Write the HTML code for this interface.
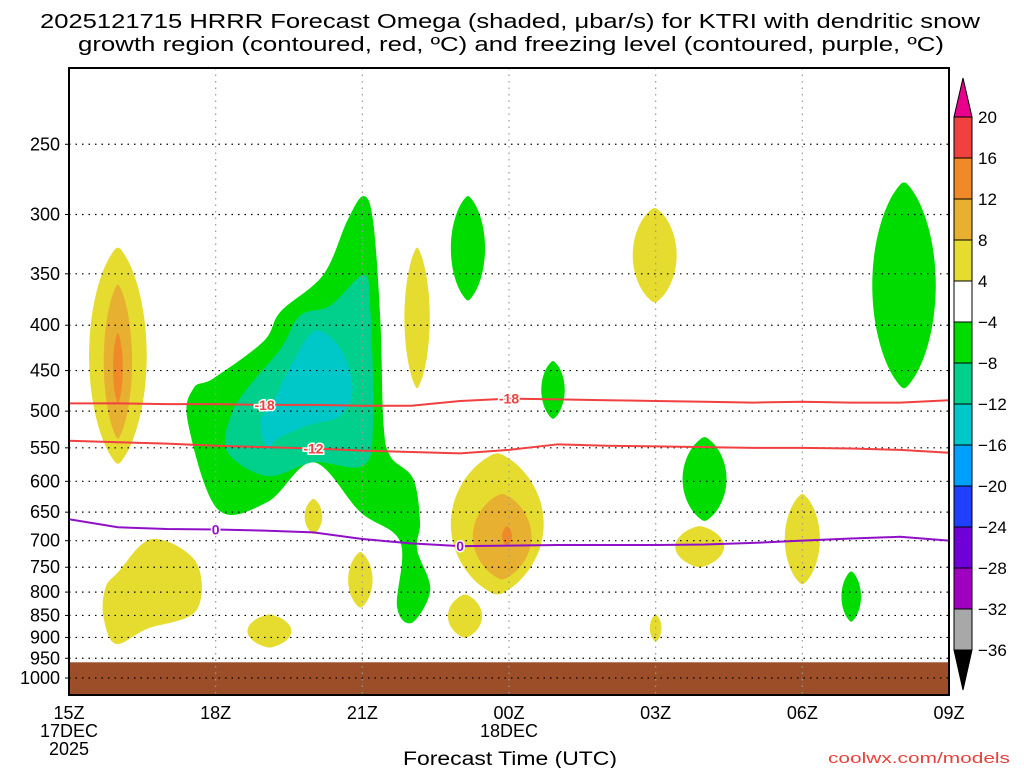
<!DOCTYPE html>
<html><head><meta charset="utf-8"><style>
html,body{margin:0;padding:0;background:#fff;}
svg{display:block;font-family:"Liberation Sans","DejaVu Sans",sans-serif;}
</style></head><body>
<svg id="chart" width="1024" height="768" viewBox="0 0 1024 768" xmlns="http://www.w3.org/2000/svg">
<text x="40" y="28" textLength="940" lengthAdjust="spacingAndGlyphs" font-size="20" fill="#000">2025121715 HRRR Forecast Omega (shaded, μbar/s) for KTRI with dendritic snow</text>
<text x="78" y="51" textLength="866" lengthAdjust="spacingAndGlyphs" font-size="20" fill="#000">growth region (contoured, red, ºC) and freezing level (contoured, purple, ºC)</text>
<g id="plot"></g>
<g id="cbar"></g>
<text x="403" y="765" textLength="214" lengthAdjust="spacingAndGlyphs" font-size="19" fill="#000">Forecast Time (UTC)</text>
<text x="828" y="763" textLength="182" lengthAdjust="spacingAndGlyphs" font-size="15" fill="#e8403c">coolwx.com/models</text>
</svg>
<script>
// ---- data ----
const xTickHours=[0,3,6,9,12,15,18];
const xTickLabels=["15Z","18Z","21Z","00Z","03Z","06Z","09Z"];
const pLevels=[250,300,350,400,450,500,550,600,650,700,750,800,850,900,950,1000];
const cbLevels=["20","16","12","8","4","-4","-8","-12","-16","-20","-24","-28","-32","-36"];
const cbColors=["#f04040","#f08a28","#e8b030","#e6dc30","#ffffff","#00dc00","#00d08c","#00c8c8","#00a0ff","#2040ff","#7000d8","#a000c0","#a8a8a8"];
const lineHours=[0,1,2,3,4,5,6,7,8,9,10,11,12,13,14,15,16,17,18];
const iso18=[490,490,491,491,492,492,493,493,487,484,485,486,487,488,489,488,489,489,486];
const iso12=[540,542,544,547,549,551,554,556,558,553,545,547,548,549,550,550,551,553,557];
const iso0=[662,676,679,680,682,685,697,705,710,709,708,708,708,707,704,700,696,693,700];
const greenMain=[[6.02,286],[6.22,305],[6.37,396],[6.43,514],[6.57,562],[7.04,596],[7.18,667],[7.12,716],[7.39,795],[7.02,866],[6.71,831],[6.78,703],[5.96,650],[5.0,571],[4.06,633],[3.04,645],[2.43,514],[2.55,471],[2.96,459],[3.98,417],[4.33,386],[5.2,351],[5.69,305]];
const tealMain=[[6.02,351],[6.16,380],[6.22,514],[6.02,576],[5.0,571],[4.06,592],[3.24,556],[3.31,506],[3.65,471],[4.33,425],[4.73,390],[5.35,380]];
const cyanMain=[[5.04,406],[5.55,425],[5.8,471],[5.55,506],[4.88,519],[4.27,537],[4.06,551],[3.92,514],[4.18,488],[4.59,439]];
const yellowBoxLeft=[[1.0,760],[1.7,697],[2.6,740],[2.6,840],[1.6,880],[0.95,915],[0.7,850],[0.75,790]];
// blobs: [colorIndex, centerHour, pTop, pBottom, halfWidthHours]
const blobs=[
[3,1.0,327,573,0.59],[2,1.0,360,537,0.29],[1,1.0,408,490,0.1],
[3,7.12,327,471,0.26],[5,8.16,286,375,0.35],[5,9.9,439,510,0.24],
[3,11.98,295,377,0.45],[5,17.08,276,471,0.65],[5,13.0,535,665,0.45],
[3,8.76,558,805,0.95],[2,8.86,620,774,0.6],[1,8.96,674,710,0.1],
[3,15.0,620,784,0.36],[3,5.0,628,688,0.18],[3,5.96,721,833,0.25],
[3,12.9,674,750,0.5],[3,4.1,848,924,0.45],
[3,8.1,805,901,0.35],[3,12.0,848,910,0.12],[5,16.0,758,864,0.2],[6,7.02,780,815,0.06]
];
const groundTop=960;
// ---- scales ----
const X0=69,X1=949,Y0=68,Y1=695;
const xs=h=>X0+h*(X1-X0)/18;
const ys=p=>678-385*Math.log(1000/p);
const NS="http://www.w3.org/2000/svg";
const plot=document.getElementById('plot'),cbar=document.getElementById('cbar');
function mk(tag,attrs,parent){const e=document.createElementNS(NS,tag);for(const k in attrs)e.setAttribute(k,attrs[k]);parent.appendChild(e);return e;}
function smooth(pts){let d="";const n=pts.length;for(let i=0;i<n;i++){const p0=pts[(i-1+n)%n],p1=pts[i],p2=pts[(i+1)%n],p3=pts[(i+2)%n];
if(i===0)d+="M"+p1[0]+","+p1[1];
const c1=[p1[0]+(p2[0]-p0[0])/6,p1[1]+(p2[1]-p0[1])/6],c2=[p2[0]-(p3[0]-p1[0])/6,p2[1]-(p3[1]-p1[1])/6];
d+="C"+c1+" "+c2+" "+p2;}return d+"Z";}
const clip=mk('clipPath',{id:'pc'},plot);mk('rect',{x:X0,y:Y0,width:X1-X0,height:Y1-Y0},clip);
const g=mk('g',{'clip-path':'url(#pc)'},plot);
const yb0=mk('path',{d:smooth(yellowBoxLeft.map(q=>[xs(q[0]),ys(q[1])])),fill:cbColors[3]},g);


blobs.forEach(b=>{
 const yt=ys(b[2]),yb=ys(b[3]),cy=(yt+yb)/2,ry=(yb-yt)/2,cx=xs(b[1]),rx=b[4]*(X1-X0)/18;
 const pts=[];for(let i=0;i<20;i++){const a=i/20*2*Math.PI;const s=Math.sin(a),c=Math.cos(a);pts.push([cx+rx*s*Math.pow(Math.abs(s),0.4),cy-ry*c]);}
 const e=mk('path',{d:smooth(pts),fill:cbColors[b[0]]},g);
 
 
});
[[greenMain,5],[tealMain,6],[cyanMain,7]].forEach(([poly,ci])=>{
 const e=mk('path',{d:smooth(poly.map(q=>[xs(q[0]),ys(q[1])])),fill:cbColors[ci]},g);
 
 
});
const gr=mk('rect',{x:X0,y:ys(groundTop),width:X1-X0,height:Y1-ys(groundTop),fill:'#9c4e28'},g);


pLevels.forEach(p=>{const l=mk('line',{x1:X0,x2:X1,y1:ys(p),y2:ys(p),stroke:'#000','stroke-width':1.2,'stroke-dasharray':'1.5 5'},g);
 });
xTickHours.forEach(h=>{const l=mk('line',{x1:xs(h),x2:xs(h),y1:Y0,y2:Y1,stroke:'#999','stroke-width':1.2,'stroke-dasharray':'1.5 5'},g);
 });
function drawLine(arr,color,name,labels,txt){
 const d=arr.map((p,i)=>(i?"L":"M")+xs(lineHours[i])+","+ys(p)).join("");
 const l=mk('path',{d,fill:'none',stroke:color,'stroke-width':2},g);
 
 labels.forEach(h=>{const i=Math.floor(h);const p=arr[i]+(arr[i+1]-arr[i])*(h-i);
  const t=mk('text',{x:xs(h),y:ys(p)+5,'text-anchor':'middle','font-size':14,'font-weight':'bold',fill:color,stroke:'#fff','stroke-width':3,'paint-order':'stroke'},g);
  t.textContent=txt;});
}
drawLine(iso18,'#f04040','isotherm-minus18',[4.0,9.0],'-18');
drawLine(iso12,'#f04040','isotherm-minus12',[5.0],'-12');
drawLine(iso0,'#9010c8','freezing-level',[3.0,8.0],'0');
const fr=mk('rect',{x:X0,y:Y0,width:X1-X0,height:Y1-Y0,fill:'none',stroke:'#000','stroke-width':2},plot);

pLevels.forEach(p=>{const t=mk('text',{x:60,y:ys(p)+6,'text-anchor':'end','font-size':18,fill:'#000'},plot);t.textContent=p;
 
 mk('line',{x1:X0-4,x2:X0,y1:ys(p),y2:ys(p),stroke:'#000'},plot);});
xTickHours.forEach((h,i)=>{const t=mk('text',{x:xs(h),y:719,'text-anchor':'middle','font-size':18,fill:'#000'},plot);t.textContent=xTickLabels[i];
 });
[["17DEC",xs(0),737],["2025",xs(0),755],["18DEC",xs(9),737]].forEach(a=>{const t=mk('text',{x:a[1],y:a[2],'text-anchor':'middle','font-size':18,fill:'#000'},plot);t.textContent=a[0];
 });
const CX=954,CW=18,CT=117,CS=41;
const tri1=mk('path',{d:`M${CX},${CT}L${CX+CW/2},78L${CX+CW},${CT}Z`,fill:'#e8008c',stroke:'#000'},cbar);

cbColors.forEach((c,i)=>{const r=mk('rect',{x:CX,y:CT+i*CS,width:CW,height:CS,fill:c,stroke:'#000','stroke-width':1},cbar);
 });
const yb=CT+cbColors.length*CS;
const tri2=mk('path',{d:`M${CX},${yb}L${CX+CW/2},${yb+40}L${CX+CW},${yb}Z`,fill:'#000',stroke:'#000'},cbar);

cbLevels.forEach((s,i)=>{const t=mk('text',{x:978,y:CT+i*CS+6,'font-size':17,fill:'#000'},cbar);t.textContent=s.replace('-','\u2212');
 });
</script>
</body></html>
